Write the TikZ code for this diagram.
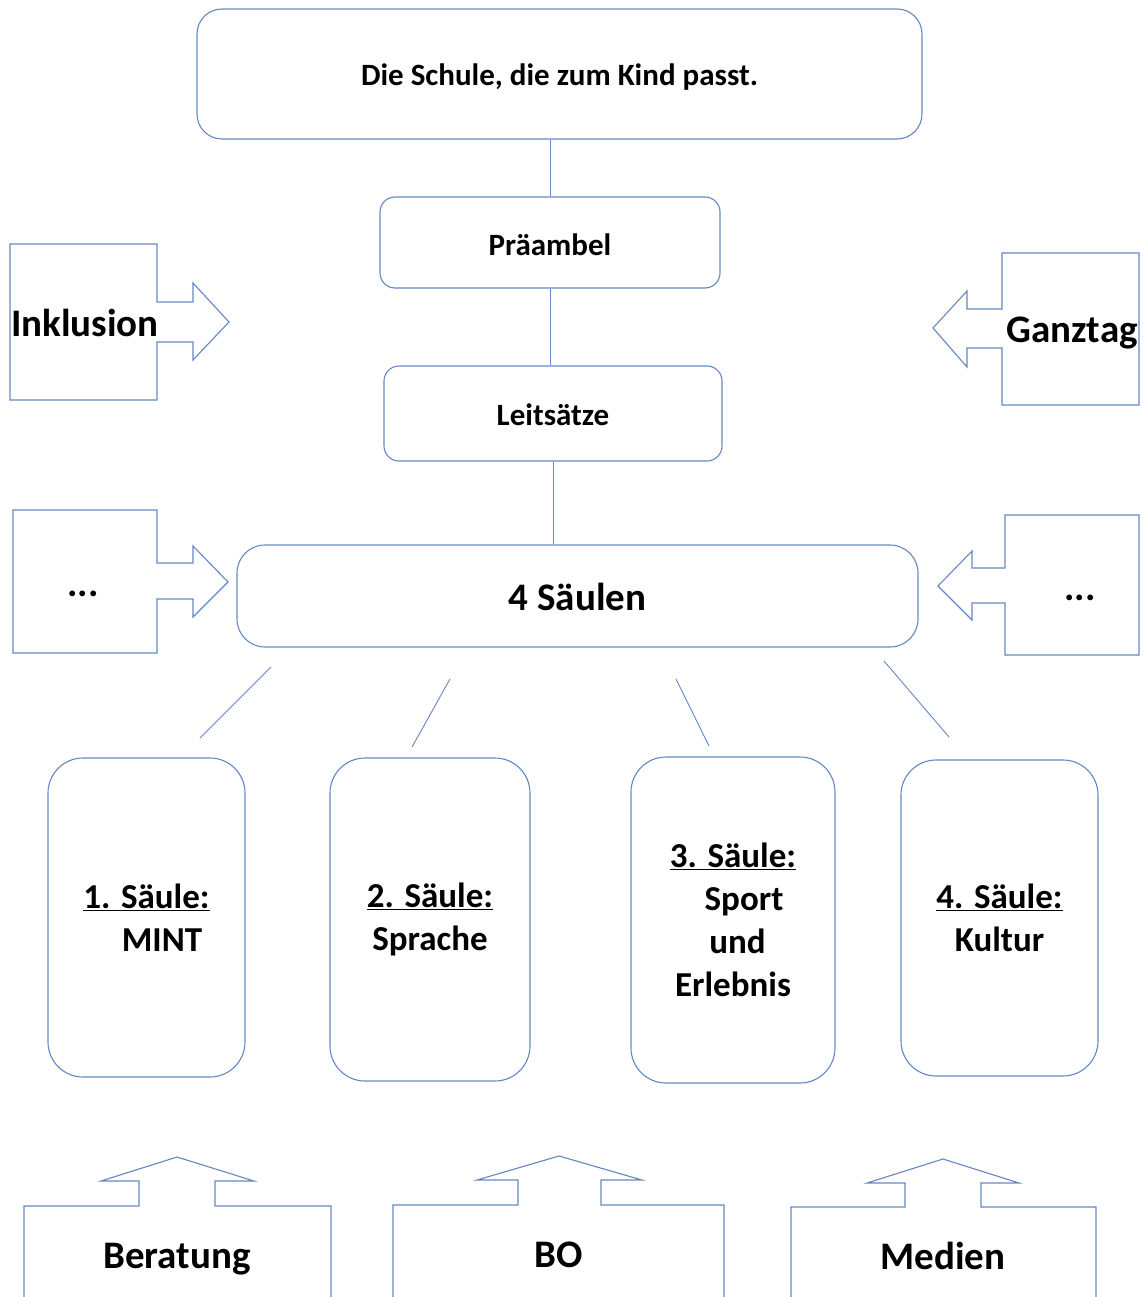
\documentclass[tikz,border=0pt]{standalone}
\usepackage{fontspec}
\setmainfont{Carlito}
\definecolor{ol}{RGB}{100,135,195}
\newcommand\fsA{\fontsize{31}{37}\selectfont\bfseries}
\newcommand\fsB{\fontsize{39}{47}\selectfont\bfseries}
\newcommand\fsC{\fontsize{35}{43}\selectfont\bfseries}
\newcommand\lowerby[2]{\raisebox{-#1}[\height][\depth]{#2}}
\begin{document}
\begin{tikzpicture}[x=1pt,y=-1pt,
  box/.style={draw=ol, line width=1.1pt, rounded corners=#1, inner sep=0pt, align=center},
  box/.default=15pt,
  conn/.style={draw=ol, line width=0.9pt},
  callout/.style={draw=ol, line width=1.1pt, line join=miter},
  lbl/.style={inner sep=0pt, anchor=base, font=\fsB}]
\useasboundingbox (0,0) rectangle (1144,1297);

% main boxes
\node[box=25pt, minimum width=725pt, minimum height=130pt, font=\fsA] (top) at (559.5,74) {\lowerby{3pt}{Die Schule, die zum Kind passt.}};
\node[box=15pt, minimum width=340pt, minimum height=91pt, font=\fsA] (pre) at (550,242.5) {\lowerby{2pt}{Präambel}};
\node[box=15pt, minimum width=338pt, minimum height=95pt, font=\fsA] (lei) at (553,413.5) {\lowerby{1pt}{Leitsätze}};
\node[box=28pt, minimum width=681pt, minimum height=102pt, font=\fsB] (sae) at (577.5,596) {\lowerby{1pt}{4 Säulen}};

% pillars
\node[box=35pt, minimum width=197pt, minimum height=319pt, font=\fsC] (s1) at (146.5,917.5) {\underline{1. Säule:}\\\hspace*{31pt}MINT};
\node[box=35pt, minimum width=200pt, minimum height=323pt, font=\fsC] (s2) at (430,919.5) {\underline{2. Säule:}\\Sprache};
\node[box=35pt, minimum width=204pt, minimum height=326pt, font=\fsC] (s3) at (733,920) {\underline{3. Säule:}\\\hspace*{22pt}Sport\\\hspace*{9pt}und\\Erlebnis};
\node[box=35pt, minimum width=197pt, minimum height=316pt, font=\fsC] (s4) at (999.5,918) {\underline{4. Säule:}\\Kultur};

% vertical connectors
\draw[conn] (pre.north |- top.south) -- (pre.north);
\draw[conn] (pre.south) -- (pre.south |- lei.north);
\draw[conn] (lei.south) -- (lei.south |- sae.north);

% floating diagonal connectors
\coordinate (d1a) at (271,667); \coordinate (d1b) at (200,738);
\coordinate (d2a) at (450,679); \coordinate (d2b) at (412,747);
\coordinate (d3a) at (676,679); \coordinate (d3b) at (709,746);
\coordinate (d4a) at (884,661); \coordinate (d4b) at (949,737);
\draw[conn] (d1a) -- (d1b);
\draw[conn] (d2a) -- (d2b);
\draw[conn] (d3a) -- (d3b);
\draw[conn] (d4a) -- (d4b);

% side callouts
\draw[callout] (10,244) -- (157,244) -- (157,302) -- (193,302) -- (193,283) -- (229,322) -- (193,360) -- (193,342) -- (157,342) -- (157,400) -- (10,400) -- cycle;
\node[lbl] (inkl) at (85,336) {Inklusion};
\draw[callout] (1139,253) -- (1002,253) -- (1002,309) -- (967,309) -- (967,291) -- (933,328) -- (967,367) -- (967,348) -- (1002,348) -- (1002,405) -- (1139,405) -- cycle;
\node[lbl] (ganz) at (1072,342) {Ganztag};
\draw[callout] (13,510) -- (157,510) -- (157,563) -- (193,563) -- (193,546) -- (228,582) -- (193,617) -- (193,599) -- (157,599) -- (157,653) -- (13,653) -- cycle;
\node[lbl] (dl) at (83,596) {...};
\draw[callout] (1139,515) -- (1005,515) -- (1005,568) -- (972,568) -- (972,551) -- (938,586) -- (972,620) -- (972,603) -- (1005,603) -- (1005,655) -- (1139,655) -- cycle;
\node[lbl] (dr) at (1080,600) {...};

% bottom callouts
\draw[callout] (24,1300) -- (24,1206) -- (139,1206) -- (139,1181) -- (101,1181) -- (177,1157) -- (254,1181) -- (215,1181) -- (215,1206) -- (331,1206) -- (331,1300);
\node[lbl] (ber) at (177,1268) {Beratung};
\draw[callout] (393,1300) -- (393,1205) -- (518,1205) -- (518,1180) -- (477,1180) -- (559,1156) -- (642,1180) -- (601,1180) -- (601,1205) -- (724,1205) -- (724,1300);
\node[lbl] (bo) at (559,1267) {BO};
\draw[callout] (791,1300) -- (791,1207) -- (905,1207) -- (905,1183) -- (867,1183) -- (943,1159) -- (1019,1183) -- (981,1183) -- (981,1207) -- (1096,1207) -- (1096,1300);
\node[lbl] (med) at (943,1269) {Medien};
\end{tikzpicture}
\end{document}
